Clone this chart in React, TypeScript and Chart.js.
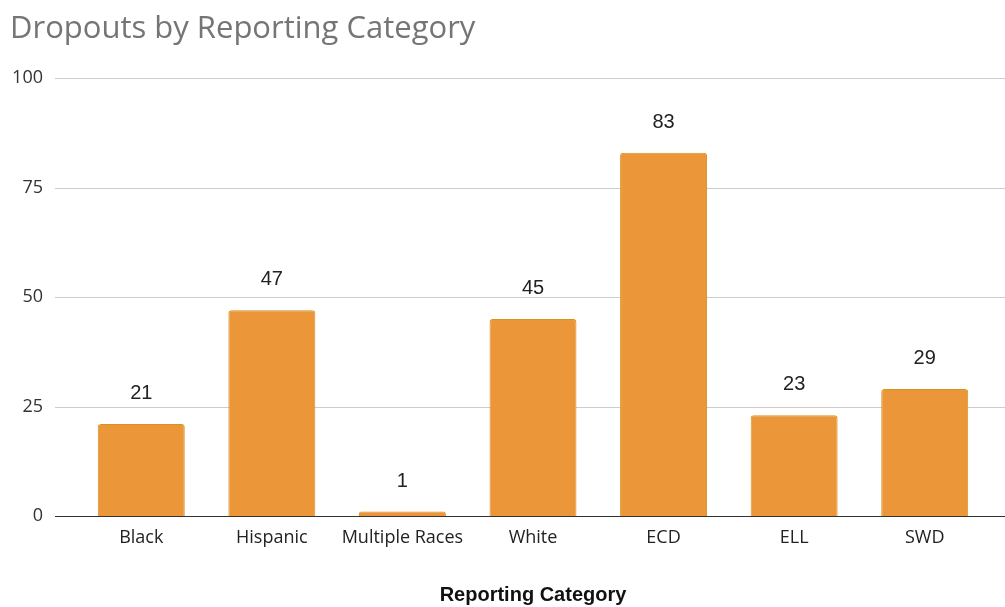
import React, { useEffect, useRef } from "react";
import { Chart, registerables } from "chart.js";
Chart.register(...registerables);

const categories = ["Black", "Hispanic", "Multiple Races", "White", "ECD", "ELL", "SWD"];
const dropouts = [21, 47, 1, 45, 83, 23, 29];
const yTicks = [0, 25, 50, 75, 100];

export default function App() {
  const ref = useRef<HTMLCanvasElement>(null);
  useEffect(() => {
    document.body.style.margin = "0";
    const gridPlugin = {
      id: "extGrid",
      beforeDatasetsDraw(chart: any) {
        const { ctx } = chart;
        const y = chart.scales.y;
        ctx.save();
        ctx.lineWidth = 1;
        ctx.strokeStyle = "#cccccc";
        yTicks.forEach((v) => {
          if (v === 0) return;
          const py = Math.round(y.getPixelForValue(v)) + 0.5;
          ctx.beginPath();
          ctx.moveTo(55, py);
          ctx.lineTo(chart.width, py);
          ctx.stroke();
        });
        ctx.restore();
      },
      afterDatasetsDraw(chart: any) {
        const { ctx } = chart;
        const y = chart.scales.y;
        ctx.save();
        const py = Math.round(y.getPixelForValue(0)) + 0.5;
        ctx.strokeStyle = "#333333";
        ctx.lineWidth = 1;
        ctx.beginPath();
        ctx.moveTo(55, py);
        ctx.lineTo(chart.width, py);
        ctx.stroke();
        const meta = chart.getDatasetMeta(0);
        ctx.fillStyle = "#222222";
        ctx.font = "20px 'Liberation Sans', Arial, sans-serif";
        ctx.textAlign = "center";
        ctx.textBaseline = "alphabetic";
        meta.data.forEach((el: any, i: number) => {
          ctx.fillText(String(dropouts[i]), el.x, el.y - 25);
        });
        ctx.restore();
      },
    };
    const chart = new Chart(ref.current!, {
      type: "bar",
      data: {
        labels: categories,
        datasets: [
          {
            data: dropouts,
            backgroundColor: "#EA9639",
            borderColor: "#D8921F",
            borderWidth: 1,
            borderRadius: 3,
            borderSkipped: "bottom",
            categoryPercentage: 1,
            barPercentage: 0.666,
          },
        ],
      },
      options: {
        animation: false,
        responsive: false,
        layout: { padding: { left: 10, right: 15, top: 0, bottom: 0 } },
        plugins: {
          legend: { display: false },
          tooltip: { enabled: false },
          title: {
            display: true,
            text: "Dropouts by Reporting Category",
            align: "start",
            color: "#757575",
            font: { family: "'Open Sans'", size: 31, weight: "normal", lineHeight: 1.2 },
            padding: { top: 11, bottom: 30 },
          },
        },
        scales: {
          x: {
            grid: { display: false },
            border: { display: false },
            ticks: {
              color: "#222222",
              font: { family: "'Open Sans'", size: 18 },
              padding: 3,
              maxRotation: 0,
            },
            title: {
              display: true,
              text: "Reporting Category",
              color: "#111111",
              font: { family: "'Liberation Sans', Arial", size: 20, weight: "bold" },
              padding: { top: 0, bottom: 0 },
            },
            afterFit(scale: any) {
              scale.height = 91;
            },
          },
          y: {
            min: 0,
            max: 100,
            grid: { display: false },
            border: { display: false },
            ticks: {
              stepSize: 25,
              color: "#333333",
              font: { family: "'Open Sans'", size: 18 },
              padding: 25,
            },
            afterFit(scale: any) {
              scale.width = 66;
            },
          },
        },
      },
      plugins: [gridPlugin],
    });
    return () => chart.destroy();
  }, []);
  return (
    <div style={{ width: 1005, height: 607 }}>
      <canvas ref={ref} width={1005} height={607} />
    </div>
  );
}
